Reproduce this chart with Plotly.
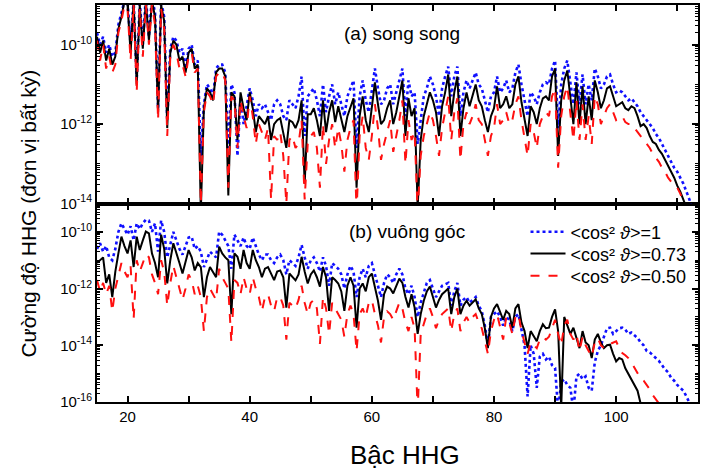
import numpy as np
import plotly.graph_objects as go

# Harmonic order grid (0.5 step)
orders = np.arange(15.0, 113.0 + 0.25, 0.5)

# ---- (a) song song : log10 intensity ----
a_cos1_log = [
    -9.7, -10.0, -9.8, -10.2, -10.0, -10.3, -10.2, -9.5, -9.2, -8.9,
    -8.9, -10.0, -8.9, -10.9, -8.9, -10.0, -8.8, -9.8, -8.8, -9.2,
    -11.6, -8.9, -9.3, -11.9, -10.1, -9.8, -9.9, -10.2, -10.1, -10.6,
    -10.1, -10.0, -10.5, -10.4, -12.8, -11.5, -11.0, -11.1, -11.3, -10.6,
    -10.5, -10.5, -10.7, -12.6, -11.0, -11.2, -12.8, -11.3, -12.0, -11.5,
    -11.1, -11.4, -11.8, -11.5, -11.6, -11.5, -11.7, -11.9, -11.5, -11.4,
    -11.5, -11.8, -11.9, -11.4, -11.5, -11.6, -11.3, -10.8, -12.3, -11.3,
    -11.2, -11.1, -11.4, -11.8, -11.0, -11.7, -11.3, -11.0, -11.5, -11.2,
    -11.5, -11.8, -11.3, -11.1, -10.9, -12.6, -11.3, -10.9, -11.4, -11.7,
    -11.2, -10.6, -11.1, -11.5, -11.4, -11.1, -11.0, -11.5, -11.2, -10.9,
    -10.6, -11.8, -10.9, -11.3, -11.2, -12.5, -11.9, -11.3, -11.1, -10.8,
    -11.0, -11.3, -11.8, -11.1, -10.8, -10.55, -11.3, -10.8, -10.55, -11.8,
    -11.2, -10.9, -11.1, -10.9, -10.7, -11.0, -11.1, -11.4, -11.7, -11.3,
    -11.2, -10.8, -11.2, -11.1, -10.9, -11.2, -11.1, -10.7, -10.5, -11.0,
    -11.4, -11.8, -11.2, -11.3, -11.5, -11.2, -11.0, -10.95, -11.0, -10.6,
    -10.4, -12.1, -11.0, -10.6, -10.4, -10.9, -11.5, -10.7, -11.5, -10.75,
    -11.5, -11.0, -11.4, -10.6, -10.8, -11.1, -11.0, -10.8, -10.75, -11.0,
    -11.2, -11.15, -11.2, -11.3, -11.4, -11.35, -11.45, -11.55, -11.7, -11.8,
    -11.9, -12.0, -12.1, -12.25, -12.35, -12.5, -12.65, -12.8, -12.95, -13.1,
    -13.2, -13.35, -13.5, -13.7, -13.9, -14.2, -14.5,
]
a_cos073_log = [
    -9.8, -10.2, -9.9, -10.4, -10.1, -10.5, -10.3, -9.6, -9.3, -8.9,
    -9.0, -10.2, -8.9, -11.0, -9.0, -10.1, -8.9, -9.9, -8.9, -9.3,
    -11.7, -9.0, -9.4, -12.1, -10.2, -9.9, -10.0, -10.4, -10.3, -10.7,
    -10.2, -10.1, -10.6, -10.5, -14.2, -11.6, -11.1, -11.2, -11.4, -10.7,
    -10.6, -10.6, -10.8, -13.8, -11.2, -11.3, -12.4, -11.2, -11.6, -11.9,
    -11.2, -11.6, -12.2, -11.8, -11.9, -12.0, -11.8, -12.4, -12.0, -11.9,
    -11.85, -12.2, -12.6, -11.9, -11.95, -12.1, -11.9, -11.4, -13.5, -11.75,
    -11.75, -11.6, -11.9, -12.3, -11.4, -12.2, -11.7, -11.4, -11.95, -11.55,
    -11.9, -12.2, -11.8, -11.6, -11.35, -13.6, -11.8, -11.3, -11.9, -12.2,
    -11.6, -10.95, -11.5, -12.0, -11.9, -11.6, -11.4, -12.0, -11.7, -11.3,
    -10.9, -12.3, -11.35, -11.8, -11.6, -14.1, -12.4, -11.8, -11.5, -11.2,
    -11.4, -11.7, -12.3, -11.55, -11.2, -10.75, -11.8, -11.2, -10.8, -12.3,
    -11.6, -11.2, -11.55, -11.3, -11.0, -11.4, -11.55, -11.9, -12.2, -11.8,
    -11.6, -11.05, -11.6, -11.5, -11.3, -11.6, -11.5, -11.0, -10.8, -11.45,
    -11.9, -12.3, -11.55, -11.7, -12.0, -11.6, -11.35, -11.3, -11.4, -10.8,
    -10.6, -12.8, -11.4, -10.9, -10.65, -11.3, -12.0, -10.95, -12.0, -11.05,
    -12.0, -11.3, -11.9, -10.9, -11.2, -11.6, -11.4, -11.1, -11.05, -11.3,
    -11.55, -11.5, -11.45, -11.6, -11.65, -11.55, -11.6, -11.8, -12.05, -12.0,
    -12.1, -12.3, -12.45, -12.5, -12.65, -12.75, -12.9, -13.05, -13.2, -13.35,
    -13.55, -13.7, -13.9, -14.1, -14.3, -14.5, -14.7,
]
a_cos050_log = [
    -9.9, -10.4, -10.0, -10.6, -10.3, -10.7, -10.5, -9.7, -9.4, -9.0,
    -9.1, -10.4, -9.0, -11.2, -9.1, -10.3, -9.0, -10.0, -9.0, -9.5,
    -11.9, -9.1, -9.6, -12.3, -10.3, -10.0, -10.2, -10.6, -10.5, -10.8,
    -10.3, -10.2, -10.7, -10.6, -14.0, -11.7, -11.2, -11.3, -11.5, -10.8,
    -10.7, -10.7, -10.9, -13.6, -11.3, -11.4, -12.6, -11.4, -11.8, -12.1,
    -11.3, -11.8, -12.5, -12.0, -12.2, -12.4, -12.1, -13.9, -12.3, -12.4,
    -12.2, -12.8, -14.0, -12.4, -12.3, -12.6, -12.5, -11.9, -13.9, -12.5,
    -12.3, -12.2, -12.6, -13.6, -12.0, -13.0, -12.4, -12.0, -12.6, -12.1,
    -12.5, -13.2, -12.4, -12.1, -11.9, -14.2, -12.3, -11.8, -12.6, -12.9,
    -12.3, -11.5, -12.1, -12.9, -12.5, -12.2, -11.9, -12.7, -12.3, -11.9,
    -11.4, -13.0, -11.9, -12.4, -12.2, -14.2, -12.8, -12.3, -12.0, -11.7,
    -11.9, -12.3, -12.8, -12.1, -11.7, -11.3, -12.4, -11.7, -11.35, -12.9,
    -12.0, -11.7, -12.0, -11.8, -11.5, -11.9, -12.0, -12.4, -12.8, -12.3,
    -12.1, -11.5, -12.0, -11.9, -11.7, -12.0, -11.9, -11.5, -11.3, -11.9,
    -12.4, -12.8, -12.0, -12.2, -12.6, -12.0, -11.8, -11.7, -11.8, -11.3,
    -11.1, -13.1, -11.8, -11.3, -11.05, -11.7, -12.4, -11.4, -12.4, -11.5,
    -12.4, -11.8, -12.5, -11.3, -11.5, -12.0, -11.8, -11.6, -11.5, -11.7,
    -11.9, -11.85, -11.8, -11.95, -12.0, -12.0, -12.1, -12.2, -12.3, -12.4,
    -12.5, -12.6, -12.75, -12.85, -12.95, -13.1, -13.2, -13.35, -13.45, -13.55,
    -13.6, -13.75, -13.95, -14.2, -14.4, -14.6, -14.8,
]

# ---- (b) vuông góc : log10 intensity ----
b_cos1_log = [
    -10.6, -10.4, -10.7, -10.5, -10.9, -11.0, -10.6, -10.0, -9.7, -9.9,
    -10.1, -9.8, -10.3, -9.7, -9.9, -9.7, -9.57, -9.6, -10.0, -9.7,
    -10.7, -9.6, -10.0, -10.9, -10.4, -10.0, -10.3, -10.6, -10.8, -10.5,
    -10.2, -10.17, -10.6, -10.5, -10.7, -11.24, -11.0, -10.7, -10.8, -10.9,
    -10.0, -10.1, -10.3, -10.5, -11.3, -10.1, -10.3, -10.5, -10.2, -10.5,
    -10.6, -10.2, -10.5, -10.8, -11.0, -10.8, -10.8, -11.0, -11.1, -10.9,
    -10.8, -11.0, -11.5, -11.0, -11.1, -11.2, -10.9, -10.46, -10.9, -11.3,
    -11.0, -10.9, -11.1, -11.4, -10.9, -11.2, -11.9, -11.1, -11.2, -11.3,
    -11.5, -12.0, -11.5, -11.2, -11.4, -12.3, -11.6, -11.3, -11.6, -11.2,
    -11.1, -11.5, -11.9, -12.3, -11.8, -11.5, -11.6, -11.8, -11.5, -11.3,
    -11.5, -12.0, -12.2, -11.9, -12.3, -13.0, -12.5, -12.1, -11.8, -11.7,
    -12.0, -12.3, -12.1, -11.9, -11.85, -11.8, -12.6, -12.1, -11.8, -12.6,
    -12.4, -12.3, -12.5, -12.4, -12.3, -12.6, -12.8, -13.3, -14.0, -13.0,
    -12.9, -12.8, -13.0, -13.3, -13.0, -13.1, -13.5, -13.0, -12.9, -13.4,
    -14.0, -15.8, -14.0, -14.3, -15.5, -14.4, -14.3, -14.5, -14.4, -14.7,
    -14.8, -16.3, -15.3, -15.2, -15.4, -15.5, -16.3, -15.1, -15.0, -15.2,
    -15.1, -15.5, -15.6, -14.6, -14.2, -14.0, -13.7, -13.4, -13.38, -13.6,
    -13.5, -13.4, -13.38, -13.45, -13.6, -13.55, -13.65, -13.74, -13.9, -14.0,
    -14.2, -14.25, -14.35, -14.45, -14.55, -14.7, -14.85, -14.95, -15.15, -15.25,
    -15.4, -15.5, -15.6, -15.8, -16.05, -16.3, -16.5,
]
b_cos073_log = [
    -11.1, -11.0, -10.9, -11.8, -11.5, -12.3, -11.4, -10.76, -10.17, -10.5,
    -10.76, -10.3, -11.24, -10.17, -10.64, -10.3, -9.99, -10.05, -10.76, -11.1,
    -11.6, -10.1, -10.6, -11.82, -11.0, -10.4, -10.8, -11.1, -11.47, -11.1,
    -10.64, -10.9, -11.36, -11.1, -11.24, -12.3, -11.6, -11.24, -11.4, -11.6,
    -10.52, -10.76, -10.9, -11.0, -12.9, -10.76, -10.88, -11.3, -10.64, -11.1,
    -11.3, -10.64, -11.0, -11.24, -11.6, -11.3, -11.24, -11.5, -11.7, -11.4,
    -11.36, -11.6, -12.67, -11.47, -11.6, -11.71, -11.5, -10.88, -11.4, -11.82,
    -11.5, -11.36, -11.6, -11.93, -11.24, -11.6, -12.79, -11.6, -11.7, -11.82,
    -12.1, -12.79, -11.9, -11.6, -11.9, -13.38, -12.0, -11.82, -12.1, -11.6,
    -11.47, -12.0, -12.43, -13.1, -12.2, -11.93, -12.0, -12.17, -11.9, -11.65,
    -11.8, -12.3, -12.67, -12.2, -12.67, -13.6, -12.9, -12.43, -12.1, -11.93,
    -12.3, -12.67, -12.4, -12.2, -12.1, -12.0, -12.9, -12.3, -12.0, -12.9,
    -12.6, -12.43, -12.6, -12.5, -12.38, -12.7, -12.9, -13.4, -14.1, -13.0,
    -12.7, -12.55, -12.8, -13.1, -12.79, -12.9, -13.38, -12.7, -12.55, -13.2,
    -13.5, -14.1, -13.5, -13.7, -13.86, -13.5, -13.26, -13.4, -13.38, -13.0,
    -12.73, -13.5, -16.2, -13.0, -13.3, -13.6, -13.38, -13.7, -14.1, -13.5,
    -13.9, -14.0, -14.45, -13.8, -13.6, -13.9, -14.1, -14.0, -13.98, -14.3,
    -14.57, -14.45, -14.5, -14.81, -15.0, -15.17, -15.4, -15.6, -16.05, -16.4,
    -16.6, -16.8, -16.9, -17.0, -17.0, -17.0, -17.0, -17.0, -17.0, -17.0,
    -17.0, -17.0, -17.0, -17.0, -17.0, -17.0, -17.0,
]
b_cos050_log = [
    -11.7, -12.1, -11.8, -12.2, -11.9, -12.8, -12.0, -11.6, -11.1, -11.4,
    -11.6, -11.2, -13.07, -11.0, -11.4, -11.1, -10.8, -10.9, -11.5, -11.8,
    -12.2, -11.0, -11.4, -12.6, -11.8, -11.2, -11.6, -12.0, -12.4, -12.0,
    -11.5, -11.7, -12.2, -11.9, -12.3, -13.5, -12.3, -12.0, -12.2, -12.4,
    -11.3, -11.6, -11.8, -12.0, -13.9, -11.7, -11.8, -12.2, -11.6, -12.0,
    -12.2, -11.6, -12.0, -12.3, -12.8, -12.3, -12.2, -12.6, -12.8, -12.3,
    -12.3, -12.6, -13.8, -12.5, -12.6, -12.7, -12.4, -11.9, -12.5, -12.9,
    -12.5, -12.4, -12.7, -13.95, -12.3, -12.7, -13.6, -12.5, -12.7, -12.9,
    -13.1, -13.7, -12.9, -12.6, -12.9, -14.2, -12.9, -12.7, -13.0, -12.5,
    -12.4, -12.9, -13.3, -13.9, -13.0, -12.8, -12.9, -13.1, -12.8, -12.5,
    -12.7, -13.2, -13.5, -13.0, -13.4, -16.3, -13.6, -13.2, -12.9, -12.7,
    -13.0, -13.4, -13.1, -12.9, -12.8, -12.7, -13.5, -12.9, -12.7, -13.5,
    -13.2, -13.0, -13.2, -13.0, -12.9, -13.2, -13.4, -13.8, -14.3, -13.5,
    -13.1, -12.9, -13.3, -13.8, -13.0, -13.2, -13.6, -13.0, -12.9, -13.5,
    -13.9, -14.3, -13.9, -14.0, -14.1, -13.8, -13.7, -13.8, -13.7, -13.4,
    -13.1, -13.6, -14.0, -13.3, -13.1, -13.6, -13.8, -13.6, -14.2, -13.7,
    -14.0, -14.2, -14.4, -13.9, -13.75, -14.0, -14.1, -14.0, -13.95, -13.9,
    -13.86, -14.1, -14.27, -14.35, -14.45, -14.6, -14.8, -14.95, -15.17, -15.25,
    -15.4, -15.55, -15.76, -15.9, -16.05, -16.3, -16.6, -16.8, -17.0, -17.0,
    -17.0, -17.0, -17.0, -17.0, -17.0, -17.0, -17.0,
]

for arr in (a_cos1_log, a_cos073_log, a_cos050_log, b_cos1_log, b_cos073_log, b_cos050_log):
    assert len(arr) == len(orders), len(arr)

series_names = ["&lt;cos² <i>ϑ</i>&gt;=1",
                "&lt;cos² <i>ϑ</i>&gt;=0.73",
                "&lt;cos² <i>ϑ</i>&gt;=0.50"]
colors = ["#1010ff", "#000000", "#ff1010"]
dashes = ["dot", "solid", "dash"]
widths = [2.6, 2.0, 2.0]
legend_ids = ["legend", "legend2", "legend3"]

FONT = "Liberation Sans, Arial, sans-serif"
fig = go.Figure()

top = [a_cos1_log, a_cos073_log, a_cos050_log]
bot = [b_cos1_log, b_cos073_log, b_cos050_log]
for i in range(3):
    fig.add_trace(go.Scatter(x=orders, y=10.0 ** np.array(top[i]), mode="lines",
                             line=dict(color=colors[i], dash=dashes[i], width=widths[i]),
                             name=series_names[i], showlegend=False,
                             xaxis="x2", yaxis="y2"))
for i in range(3):
    fig.add_trace(go.Scatter(x=orders, y=10.0 ** np.array(bot[i]), mode="lines",
                             line=dict(color=colors[i], dash=dashes[i], width=widths[i]),
                             name=series_names[i], showlegend=True, legend=legend_ids[i],
                             xaxis="x", yaxis="y"))

def minor_vals(lo, hi):
    vals = []
    for d in range(lo, hi):
        for k in range(1, 10):
            if k == 1 and (d % 2 == 0):
                continue
            vals.append(k * 10.0 ** d)
    return vals

xcommon = dict(range=[15, 113.4], showline=True, linecolor="black", linewidth=2,
               mirror="ticks", ticks="inside", ticklen=6, tickwidth=1.5,
               tickcolor="black", tickmode="array", tickvals=[20, 40, 60, 80, 100],
               minor=dict(tickmode="array", tickvals=[30, 50, 70, 90, 110],
                          ticks="inside", ticklen=6, tickwidth=1.5, tickcolor="black"),
               showgrid=False, zeroline=False,
               tickfont=dict(family=FONT, size=15, color="black"))
ycommon = dict(type="log", showline=True, linecolor="black", linewidth=2,
               mirror="ticks", ticks="inside", ticklen=6, tickwidth=1.5,
               tickcolor="black", showgrid=False, zeroline=False,
               tickfont=dict(family=FONT, size=15, color="black"))

def legend_at(ypaper):
    return dict(x=0.713, y=ypaper, xanchor="left", yanchor="middle",
                bgcolor="rgba(0,0,0,0)", borderwidth=0, itemwidth=35,
                font=dict(family=FONT, size=18, color="black"))

fig.update_layout(
    width=702, height=471,
    margin=dict(l=97, r=2, t=5, b=69),
    paper_bgcolor="white", plot_bgcolor="white",
    font=dict(family=FONT, color="black"),
    xaxis=dict(xcommon, anchor="y", domain=[0, 1], showticklabels=True),
    yaxis=dict(ycommon, anchor="x", domain=[0, 0.5], range=[-16, -9],
               tickmode="array",
               tickvals=[1e-16, 1e-14, 1e-12, 1e-10],
               ticktext=["10<sup>-16</sup>", "10<sup>-14</sup>", "10<sup>-12</sup>", "10<sup>-10</sup>"],
               minor=dict(tickmode="array", tickvals=minor_vals(-16, -9), ticks="inside",
                          ticklen=3, tickwidth=1, tickcolor="black")),
    xaxis2=dict(xcommon, anchor="y2", domain=[0, 1], showticklabels=False),
    yaxis2=dict(ycommon, anchor="x2", domain=[0.5, 1], range=[-14, -9],
                tickmode="array",
                tickvals=[1e-14, 1e-12, 1e-10],
                ticktext=["10<sup>-14</sup>", "10<sup>-12</sup>", "10<sup>-10</sup>"],
                minor=dict(tickmode="array", tickvals=minor_vals(-14, -9), ticks="inside",
                           ticklen=3, tickwidth=1, tickcolor="black")),
    legend=legend_at(0.428),
    legend2=legend_at(0.373),
    legend3=legend_at(0.317),
    annotations=[
        dict(text="(a) song song", x=0.508, y=0.96, xref="paper", yref="paper",
             showarrow=False, font=dict(family=FONT, size=19, color="black")),
        dict(text="(b) vuông góc", x=0.515, y=0.43, xref="paper", yref="paper",
             showarrow=False, font=dict(family=FONT, size=19, color="black")),
        dict(text="Bậc HHG", x=0.513, y=-0.176, xref="paper", yref="paper",
             showarrow=False, font=dict(family=FONT, size=26, color="black")),
        dict(text="Cường độ HHG (đơn vị bất kỳ)", x=-0.137, y=0.475, xref="paper", yref="paper",
             textangle=-90, showarrow=False, font=dict(family=FONT, size=21, color="black")),
    ],
)

fig.write_html("out.html", config={"displayModeBar": False},
               post_script="document.body.style.margin='0px';")
